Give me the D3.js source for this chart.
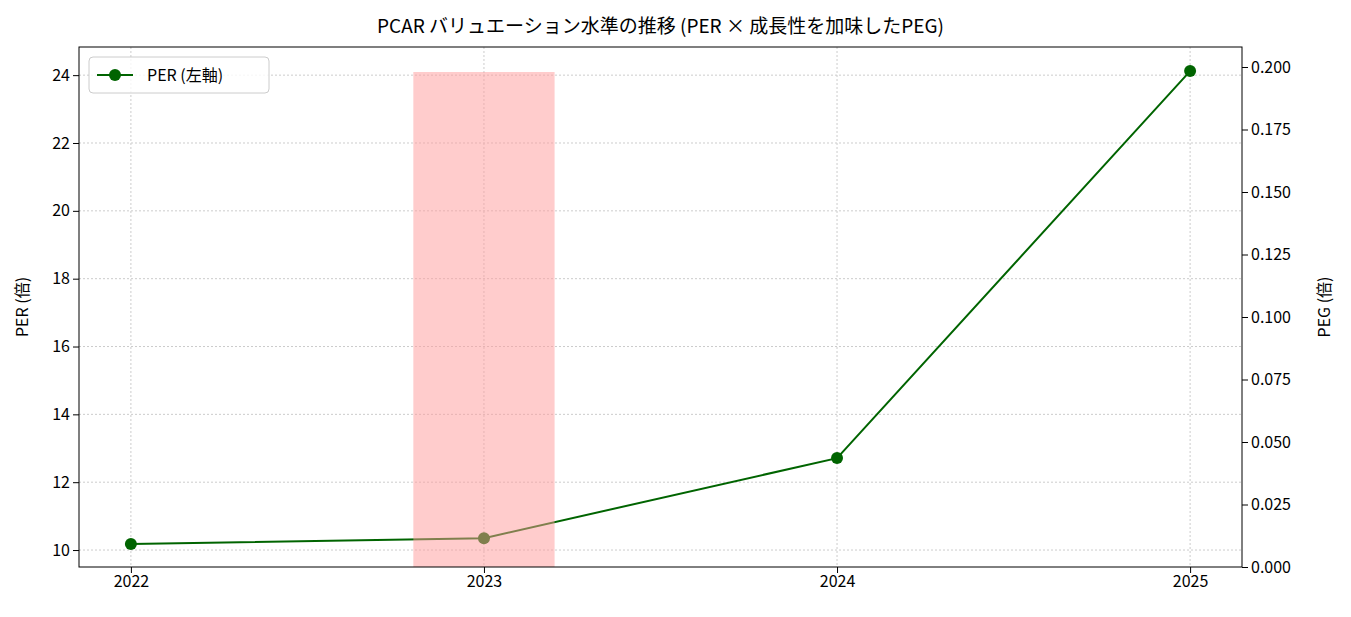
<!DOCTYPE html>
<html><head><meta charset="utf-8">
<script src="https://cdn.jsdelivr.net/npm/d3@7"></script>
<style>
body{margin:0;background:#fff;font-family:"Noto Sans CJK JP",sans-serif;}
text{font-family:"Noto Sans CJK JP",sans-serif;}
</style></head>
<body><div id="chart"></div>
<script>
const years = [2022, 2023, 2024, 2025];
const perValues = [10.18, 10.35, 12.71, 24.12];
const pegYears = [2023];
const pegValues = [0.198];
const perTicks = [10, 12, 14, 16, 18, 20, 22, 24];
const pegTicks = [0, 0.025, 0.05, 0.075, 0.1, 0.125, 0.15, 0.175, 0.2];

const W = 1351, H = 617;
const m = {top: 47, right: 109, bottom: 50, left: 79};
const w = W - m.left - m.right, h = H - m.top - m.bottom;

const svg = d3.select("#chart").append("svg").attr("width", W).attr("height", H);
const g = svg.append("g").attr("transform", `translate(${m.left},${m.top})`);

let x = d3.scaleLinear().domain([2021.853, 2025.147]).range([0, w]);
let yL = d3.scaleLinear().domain([9.5, 24.83]).range([h, 0]);
let yR = d3.scaleLinear().domain([0, 0.208]).range([h, 0]);

// grid
g.append("g").selectAll("line").data(years).join("line")
  .attr("x1", d => x(d)).attr("x2", d => x(d)).attr("y1", 0).attr("y2", h)
  .attr("stroke", "#ccc").attr("stroke-dasharray", "2,2");
g.append("g").selectAll("line").data(perTicks).join("line")
  .attr("x1", 0).attr("x2", w).attr("y1", d => yL(d)).attr("y2", d => yL(d))
  .attr("stroke", "#ccc").attr("stroke-dasharray", "2,2");

// PER line
const line = d3.line().x((d, i) => x(years[i])).y(d => yL(d));
g.append("path").attr("d", line(perValues)).attr("fill", "none")
  .attr("stroke", "#006400").attr("stroke-width", 2);
g.selectAll(".pt").data(perValues).join("circle").attr("class", "pt")
  .attr("cx", (d, i) => x(years[i])).attr("cy", d => yL(d)).attr("r", 6)
  .attr("fill", "#006400");

// PEG bar (twin axis, drawn over the line)
g.selectAll(".bar").data(pegValues).join("rect").attr("class", "bar")
  .attr("x", (d, i) => x(pegYears[i] - 0.2)).attr("width", x(2022.4) - x(2022))
  .attr("y", d => yR(d)).attr("height", d => h - yR(d))
  .attr("fill", "#ff9999").attr("opacity", 0.5);

// axes
const xa = g.append("g").attr("transform", `translate(0,${h})`)
  .call(d3.axisBottom(x).tickValues(years).tickFormat(d3.format("d")).tickSizeOuter(0));
const la = g.append("g").call(d3.axisLeft(yL).tickValues(perTicks).tickSizeOuter(0));
const ra = g.append("g").attr("transform", `translate(${w},0)`)
  .call(d3.axisRight(yR).tickValues(pegTicks).tickFormat(d3.format(".3f")).tickSizeOuter(0));
[xa, la, ra].forEach(a => {
  a.selectAll("text").attr("font-size", 16).attr("fill", "#000");
  a.selectAll("line").attr("stroke", "#000");
  a.select(".domain").remove();
});
g.append("rect").attr("width", w).attr("height", h).attr("fill", "none").attr("stroke", "#000");

// labels
svg.append("text").attr("x", m.left + w / 2).attr("y", 33).attr("text-anchor", "middle")
  .attr("font-size", 19).text("PCAR バリュエーション水準の推移 (PER × 成長性を加味したPEG)");
svg.append("text").attr("transform", `translate(28,${m.top + h / 2}) rotate(-90)`)
  .attr("text-anchor", "middle").attr("font-size", 16).text("PER (倍)");
svg.append("text").attr("transform", `translate(1330,${m.top + h / 2}) rotate(-90)`)
  .attr("text-anchor", "middle").attr("font-size", 16).text("PEG (倍)");

// legend
const lg = g.append("g").attr("transform", "translate(10,10)");
lg.append("rect").attr("width", 180).attr("height", 36).attr("rx", 4)
  .attr("fill", "#fff").attr("fill-opacity", 0.8).attr("stroke", "#ccc");
lg.append("line").attr("x1", 8).attr("x2", 44).attr("y1", 18).attr("y2", 18)
  .attr("stroke", "#006400").attr("stroke-width", 2);
lg.append("circle").attr("cx", 26).attr("cy", 18).attr("r", 6).attr("fill", "#006400");
lg.append("text").attr("x", 58).attr("y", 24).attr("font-size", 16).text("PER (左軸)");
</script></body></html>
